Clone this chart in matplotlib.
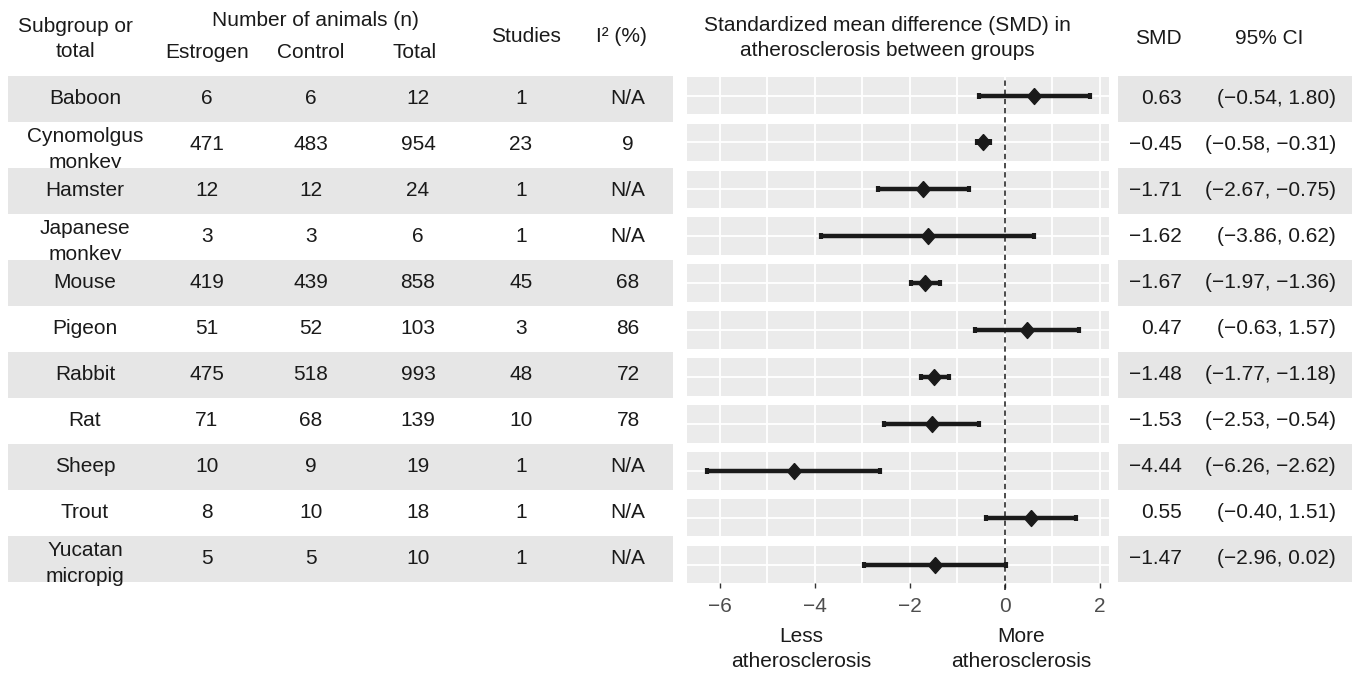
import matplotlib
matplotlib.use("Agg")
import matplotlib.pyplot as plt

plt.rcParams["font.family"] = ["Liberation Sans", "DejaVu Sans"]

# --- data ---
species = ["Baboon", "Cynomolgus\nmonkey", "Hamster", "Japanese\nmonkey", "Mouse",
           "Pigeon", "Rabbit", "Rat", "Sheep", "Trout", "Yucatan\nmicropig"]
estrogen_n = [6, 471, 12, 3, 419, 51, 475, 71, 10, 8, 5]
control_n = [6, 483, 12, 3, 439, 52, 518, 68, 9, 10, 5]
total_n = [12, 954, 24, 6, 858, 103, 993, 139, 19, 18, 10]
studies = [1, 23, 1, 1, 45, 3, 48, 10, 1, 1, 1]
i2 = ["N/A", "9", "N/A", "N/A", "68", "86", "72", "78", "N/A", "N/A", "N/A"]
smd = [0.63, -0.45, -1.71, -1.62, -1.67, 0.47, -1.48, -1.53, -4.44, 0.55, -1.47]
ci_low = [-0.54, -0.58, -2.67, -3.86, -1.97, -0.63, -1.77, -2.53, -6.26, -0.40, -2.96]
ci_high = [1.80, -0.31, -0.75, 0.62, -1.36, 1.57, -1.18, -0.54, -2.62, 1.51, 0.02]
x_ticks = [-6, -4, -2, 0, 2]

W, H = 1352, 673
FS = 15
INK = "#1a1a1a"
BAND = "#e6e6e6"
PANEL = "#ebebeb"
# ggplot-like diamond, a bit taller than wide
DIAMOND = [(0, 1), (0.88, 0), (0, -1), (-0.88, 0), (0, 1)]


def fmt(v):
    return f"{v:.2f}".replace("-", "\u2212")


def rect(x0, y0, x1, y1):
    # pixel box -> figure fraction
    return [x0 / W, 1 - y1 / H, (x1 - x0) / W, (y1 - y0) / H]


def ftext(x, y, s, **kw):
    kw.setdefault("ha", "center")
    kw.setdefault("va", "center")
    kw.setdefault("fontsize", FS)
    kw.setdefault("color", INK)
    fig.text(x / W, 1 - y / H, s, **kw)


fig = plt.figure(figsize=(W / 100, H / 100), dpi=100)
n = len(species)

# --- left table ---
tab = fig.add_axes(rect(0, 76, 680, 582))
tab.set_xlim(0, 680)
tab.set_ylim(n - 0.5, -0.5)
tab.axis("off")
cols = [(85, species), (207, estrogen_n), (311, control_n), (418, total_n),
        (521, studies), (628, i2)]
for i in range(n):
    if i % 2 == 0:
        tab.axhspan(i - 0.5, i + 0.5, xmin=8 / 680, xmax=673 / 680,
                    color=BAND, lw=0, zorder=1 + 2 * i)
    for cx, vals in cols:
        label = str(vals[i])
        dy = 0.1 if "\n" in label else 0
        tab.text(cx, i + dy, label, ha="center", va="center", fontsize=FS,
                 color=INK, zorder=2 + 2 * i, linespacing=1.42)

ftext(75, 39, "Subgroup or\ntotal", linespacing=1.4)
ftext(315, 21, "Number of animals (n)")
ftext(207, 52, "Estrogen")
ftext(311, 52, "Control")
ftext(415, 52, "Total")
ftext(526, 37, "Studies")
ftext(621, 37, "I\u00b2 (%)")

# --- forest panels ---
xlim = (-6.69, 2.2)
pitch, ph, top0 = 46.9, 37.6, 76.7
for i in range(n):
    top = top0 + i * pitch
    ax = fig.add_axes(rect(687, top, 1109, top + ph))
    ax.set_facecolor(PANEL)
    ax.set_xlim(*xlim)
    ax.set_ylim(-1, 1)
    for s in ax.spines.values():
        s.set_visible(False)
    for g in range(-6, 3):
        ax.axvline(g, color="white", lw=1.3, zorder=0)
    ax.axhline(0, color="white", lw=1.3, zorder=0)
    ax.errorbar([smd[i]], [0], xerr=[[smd[i] - ci_low[i]], [ci_high[i] - smd[i]]],
                fmt="none", ecolor=INK, elinewidth=3.2,
                capsize=2.5, capthick=3, zorder=3)
    ax.plot([smd[i]], [0], marker=DIAMOND, ms=11.5, color=INK, ls="none", zorder=4)
    ax.set_yticks([])
    if i == n - 1:
        ax.set_xticks(x_ticks)
        ax.tick_params(axis="x", length=3.6, width=1, color="#333333",
                       labelcolor="#4d4d4d", labelsize=FS, pad=6.5)
    else:
        ax.set_xticks([])

over = fig.add_axes(rect(687, top0, 1109, 590))
over.set_xlim(*xlim)
over.set_ylim(0, 1)
over.axis("off")
over.set_zorder(10)
over.axvline(0, color=INK, lw=1.1, ls=(0, (3.5, 2.5)))

ftext(887, 38, "Standardized mean difference (SMD) in\natherosclerosis between groups",
      linespacing=1.42)
ftext(801, 649, "Less\natherosclerosis", linespacing=1.38)
ftext(1021, 649, "More\natherosclerosis", linespacing=1.38)

# --- right table ---
rt = fig.add_axes(rect(1118, 76, 1352, 582))
rt.set_xlim(0, 234)
rt.set_ylim(n - 0.5, -0.5)
rt.axis("off")
for i in range(n):
    if i % 2 == 0:
        rt.axhspan(i - 0.5, i + 0.5, color=BAND, lw=0, zorder=1)
    rt.text(63.5, i, fmt(smd[i]), ha="right", va="center", fontsize=FS, color=INK, zorder=3)
    rt.text(218, i, f"({fmt(ci_low[i])}, {fmt(ci_high[i])})", ha="right",
            va="center", fontsize=FS, color=INK, zorder=3)

ftext(1158, 38, "SMD")
ftext(1269, 38, "95% CI")

fig.savefig("out.png", dpi=100)
